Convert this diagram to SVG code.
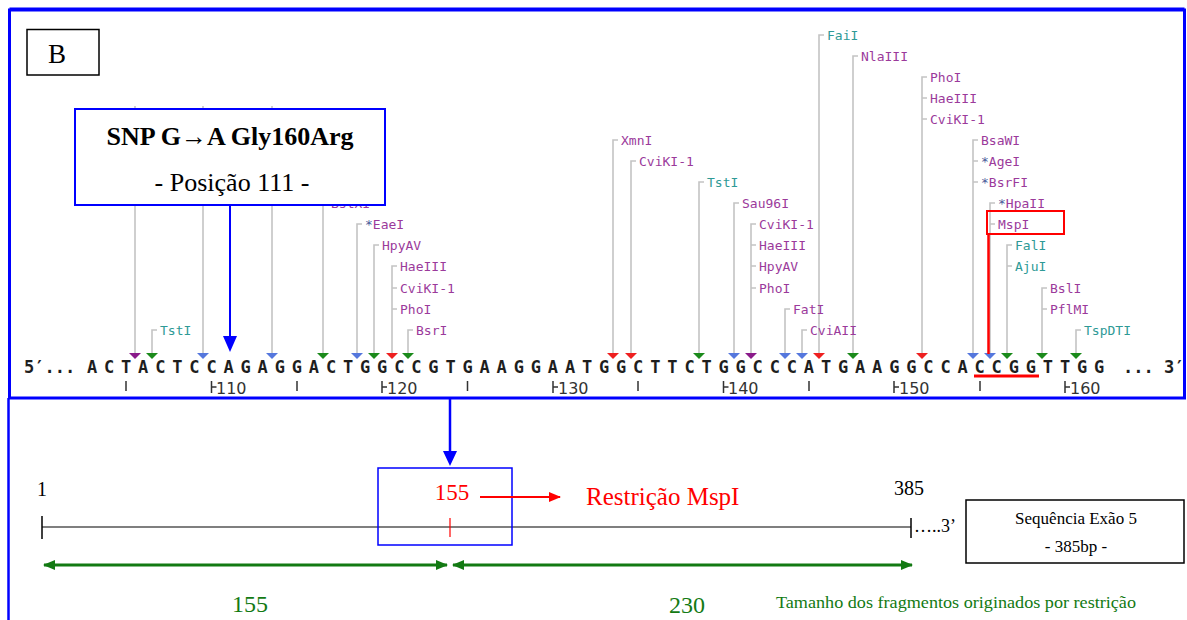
<svg xmlns="http://www.w3.org/2000/svg" width="1187" height="620" viewBox="0 0 1187 620">
<style>
.lbl{font-family:"DejaVu Sans Mono","Liberation Mono",monospace;font-size:13px}
.pu{fill:#9b3a9b}
.te{fill:#2e9a96}
.ast{fill:#4a5a9a}
.gl{stroke:#c4c4c4;stroke-width:1.6;fill:none}
.seq{font-family:"DejaVu Sans Mono","Liberation Mono",monospace;font-size:17px;font-weight:bold;fill:#1e1e1e}
.num{font-family:"DejaVu Sans","Liberation Sans",sans-serif;font-size:16px;fill:#333}
.tk{stroke:#333;stroke-width:1.5}
.tri-g{fill:#1b8a1b}.tri-b{fill:#5577dd}.tri-r{fill:#ee2020}.tri-p{fill:#8a1a8a}
.tm{font-family:"Liberation Serif","Times New Roman",serif}
</style>
<defs>
<marker id="ar" markerWidth="12" markerHeight="10" refX="11" refY="5" orient="auto" markerUnits="userSpaceOnUse"><path d="M0,0 L12,5 L0,10 z" fill="#ff0000"/></marker>
<marker id="ag" markerWidth="12" markerHeight="10" refX="11" refY="5" orient="auto-start-reverse" markerUnits="userSpaceOnUse"><path d="M0,0 L12,5 L0,10 z" fill="#137a13"/></marker>
</defs>
<rect width="1187" height="620" fill="#fff"/>

<!-- frame -->
<g id="frame">
<rect x="9.5" y="10" width="1175" height="388" fill="none" stroke="#0000ff" stroke-width="3"/>
<line x1="9.5" y1="8.5" x2="1184.5" y2="8.5" stroke="#0000ff" stroke-width="2"/>
<line x1="8.5" y1="398" x2="8.5" y2="620" stroke="#0000ff" stroke-width="2.5"/>
</g>

<!-- connectors (enzyme lines) -->
<g id="connectors">
<path class="gl" d="M135,353V106 M203,353V106 M272,353V106"/>
<path class="gl" d="M152,353V330h5"/>
<path class="gl" d="M323,353V203h5"/>
<path class="gl" d="M357,353V224h5"/>
<path class="gl" d="M374,353V245h5"/>
<path class="gl" d="M392,353V266h5 M392,288h5 M392,309h5"/>
<path class="gl" d="M408,353V330h5"/>
<path class="gl" d="M613,353V140h5"/>
<path class="gl" d="M631,353V161h5"/>
<path class="gl" d="M699,353V182h5"/>
<path class="gl" d="M734,353V203h5"/>
<path class="gl" d="M751,353V224h5 M751,245h5 M751,266h5 M751,288h5"/>
<path class="gl" d="M785,353V309h5"/>
<path class="gl" d="M802,353V330h5"/>
<path class="gl" d="M819,353V35h5"/>
<path class="gl" d="M853,353V56h5"/>
<path class="gl" d="M922,353V77h5 M922,98h5 M922,119h5"/>
<path class="gl" d="M973,353V140h5 M973,161h5 M973,182h5"/>
<path class="gl" d="M990,353V203h5 M990,224h5"/>
<path class="gl" d="M1007,353V245h5 M1007,266h5"/>
<path class="gl" d="M1042,353V288h5 M1042,309h5"/>
<path class="gl" d="M1076,353V330h5"/>
</g>

<!-- cut-site triangles -->
<g id="cut-sites">
<path class="tri-p" d="M129,353h12l-6,6z"/>
<path class="tri-g" d="M146,353h12l-6,6z"/>
<path class="tri-b" d="M197,353h12l-6,6z"/>
<path class="tri-b" d="M266,353h12l-6,6z"/>
<path class="tri-g" d="M317,353h12l-6,6z"/>
<path class="tri-b" d="M351,353h12l-6,6z"/>
<path class="tri-g" d="M368,353h12l-6,6z"/>
<path class="tri-r" d="M386,353h12l-6,6z"/>
<path class="tri-g" d="M402,353h12l-6,6z"/>
<path class="tri-r" d="M607,353h12l-6,6z"/>
<path class="tri-r" d="M625,353h12l-6,6z"/>
<path class="tri-g" d="M693,353h12l-6,6z"/>
<path class="tri-b" d="M728,353h12l-6,6z"/>
<path class="tri-p" d="M745,353h12l-6,6z"/>
<path class="tri-b" d="M779,353h12l-6,6z"/>
<path class="tri-b" d="M796,353h12l-6,6z"/>
<path class="tri-r" d="M813,353h12l-6,6z"/>
<path class="tri-g" d="M847,353h12l-6,6z"/>
<path class="tri-r" d="M916,353h12l-6,6z"/>
<path class="tri-b" d="M967,353h12l-6,6z"/>
<path class="tri-b" d="M984,353h12l-6,6z"/>
<path class="tri-g" d="M1001,353h12l-6,6z"/>
<path class="tri-g" d="M1036,353h12l-6,6z"/>
<path class="tri-g" d="M1070,353h12l-6,6z"/>
</g>

<!-- enzyme labels -->
<g id="enzymes" class="lbl">
<text class="te" x="160" y="335">TstI</text>
<text class="pu" x="331" y="208">BstXI</text>
<text x="365" y="229"><tspan class="ast">*</tspan><tspan class="pu">EaeI</tspan></text>
<text class="pu" x="382" y="250">HpyAV</text>
<text class="pu" x="400" y="271">HaeIII</text>
<text class="pu" x="400" y="293">CviKI-1</text>
<text class="pu" x="400" y="314">PhoI</text>
<text class="pu" x="416" y="335">BsrI</text>
<text class="pu" x="621" y="145">XmnI</text>
<text class="pu" x="639" y="166">CviKI-1</text>
<text class="te" x="707" y="187">TstI</text>
<text class="pu" x="742" y="208">Sau96I</text>
<text class="pu" x="759" y="229">CviKI-1</text>
<text class="pu" x="759" y="250">HaeIII</text>
<text class="pu" x="759" y="271">HpyAV</text>
<text class="pu" x="759" y="293">PhoI</text>
<text class="pu" x="793" y="314">FatI</text>
<text class="pu" x="810" y="335">CviAII</text>
<text class="te" x="827" y="40">FaiI</text>
<text class="pu" x="861" y="61">NlaIII</text>
<text class="pu" x="930" y="82">PhoI</text>
<text class="pu" x="930" y="103">HaeIII</text>
<text class="pu" x="930" y="124">CviKI-1</text>
<text class="pu" x="981" y="145">BsaWI</text>
<text x="981" y="166"><tspan class="ast">*</tspan><tspan class="pu">AgeI</tspan></text>
<text x="981" y="187"><tspan class="ast">*</tspan><tspan class="pu">BsrFI</tspan></text>
<text x="998" y="208"><tspan class="ast">*</tspan><tspan class="pu">HpaII</tspan></text>
<text class="pu" x="998" y="229">MspI</text>
<text class="te" x="1015" y="250">FalI</text>
<text class="te" x="1015" y="271">AjuI</text>
<text class="pu" x="1050" y="293">BslI</text>
<text class="pu" x="1050" y="314">PflMI</text>
<text class="te" x="1084" y="335">TspDTI</text>
</g>

<!-- sequence -->
<g id="sequence">
<text class="seq" x="24" y="373" font-weight="normal" fill="#333" font-size="18">5′...</text>
<text class="seq" text-anchor="middle" y="373" x="92 109.1 126.1 143.2 160.3 177.4 194.4 211.5 228.6 245.6 262.7 279.8 296.8 313.9 331 348.1 365.1 382.2 399.3 416.3 433.4 450.5 467.5 484.6 501.7 518.8 535.8 552.9 570 587 604.1 621.2 638.2 655.3 672.4 689.5 706.5 723.6 740.7 757.7 774.8 791.9 808.9 826 843.1 860.2 877.2 894.3 911.4 928.4 945.5 962.6 979.6 996.7 1013.8 1030.9 1047.9 1065 1082.1 1099.1">ACTACTCCAGAGGACTGGCCGTGAAGGAATGGCTTCTGGCCCATGAAGGCCACCGGTTGG</text>
<text class="seq" x="1123" y="373" font-weight="normal" fill="#333" font-size="18">... 3′</text>
</g>

<!-- ruler -->
<g id="ruler">
<path class="tk" d="M126,381v10 M297,381v10 M467.5,381v10 M638,381v10 M809,381v10 M980,381v10"/>
<path class="tk" d="M211.5,381v12 M211.5,387h5 M382,381v12 M382,387h5 M553,381v12 M553,387h5 M723.5,381v12 M723.5,387h5 M894,381v12 M894,387h5 M1065,381v12 M1065,387h5"/>
<text class="num" x="216" y="394">110</text>
<text class="num" x="387" y="394">120</text>
<text class="num" x="558" y="394">130</text>
<text class="num" x="728" y="394">140</text>
<text class="num" x="899" y="394">150</text>
<text class="num" x="1070" y="394">160</text>
</g>

<!-- MspI highlight -->
<g id="mspi-highlight">
<rect x="987" y="211" width="77" height="23" fill="none" stroke="#ff0000" stroke-width="2"/>
<line x1="988.5" y1="234" x2="988.5" y2="354" stroke="#ff0000" stroke-width="2.5"/>
<line x1="974" y1="376" x2="1039" y2="376" stroke="#ff0000" stroke-width="3"/>
</g>

<!-- B box -->
<g id="label-b">
<rect x="27" y="29.5" width="72" height="45.5" fill="#fff" stroke="#000" stroke-width="1.5"/>
<text class="tm" x="57" y="63" font-size="27" text-anchor="middle">B</text>
</g>

<!-- SNP box -->
<g id="snp-box">
<rect x="75" y="109" width="310" height="96" fill="#fff" stroke="#0000ff" stroke-width="2"/>
<text class="tm" x="230" y="145" font-size="26" font-weight="bold" text-anchor="middle">SNP G→A Gly160Arg</text>
<text class="tm" x="232" y="191" font-size="26" text-anchor="middle">- Posição 111 -</text>
<line x1="230" y1="205" x2="230" y2="338" stroke="#0000ff" stroke-width="2"/>
<path d="M223,336 L237,336 L230,352 z" fill="#0000ff"/>
</g>

<!-- link arrow -->
<g id="link-arrow">
<line x1="450" y1="398" x2="450" y2="452" stroke="#0000ff" stroke-width="2.5"/>
<path d="M443,451 L457,451 L450,466 z" fill="#0000ff"/>
</g>

<!-- exon line -->
<g id="exon-map">
<line x1="42" y1="527" x2="911" y2="527" stroke="#000" stroke-width="1.2"/>
<line x1="42" y1="516" x2="42" y2="539" stroke="#000" stroke-width="1.5"/>
<line x1="911" y1="518" x2="911" y2="538" stroke="#000" stroke-width="1.5"/>
<text class="tm" x="42" y="496" font-size="20" text-anchor="middle">1</text>
<text class="tm" x="909" y="495" font-size="20" text-anchor="middle">385</text>
<text class="tm" x="914" y="532" font-size="18">…..3’</text>
</g>

<g id="cut-155">
<rect x="378" y="468" width="134" height="77" fill="none" stroke="#0000ff" stroke-width="1.5"/>
<line x1="450" y1="518" x2="450" y2="537" stroke="#ff0000" stroke-width="1.2"/>
<text class="tm" x="452" y="500" font-size="23" fill="#ff0000" text-anchor="middle">155</text>
<line x1="480" y1="497" x2="560" y2="497" stroke="#ff0000" stroke-width="1.8" marker-end="url(#ar)"/>
<text class="tm" x="586" y="505" font-size="25" fill="#ff0000">Restrição MspI</text>
</g>

<g id="fragments">
<line x1="44" y1="565" x2="447" y2="565" stroke="#137a13" stroke-width="3" marker-start="url(#ag)" marker-end="url(#ag)"/>
<line x1="453" y1="565" x2="912" y2="565" stroke="#137a13" stroke-width="3" marker-start="url(#ag)" marker-end="url(#ag)"/>
<text class="tm" x="250" y="612" font-size="24" fill="#137a13" text-anchor="middle">155</text>
<text class="tm" x="687" y="613" font-size="24" fill="#137a13" text-anchor="middle">230</text>
<text class="tm" x="776" y="608" font-size="17" fill="#137a13" textLength="360" lengthAdjust="spacingAndGlyphs">Tamanho dos fragmentos originados por restrição</text>
</g>

<g id="exon-box">
<rect x="966" y="500" width="218" height="63" fill="#fff" stroke="#000" stroke-width="1.5"/>
<text class="tm" x="1076" y="524" font-size="17" text-anchor="middle">Sequência Exão 5</text>
<text class="tm" x="1076" y="552" font-size="17" text-anchor="middle">- 385bp -</text>
</g>
</svg>
